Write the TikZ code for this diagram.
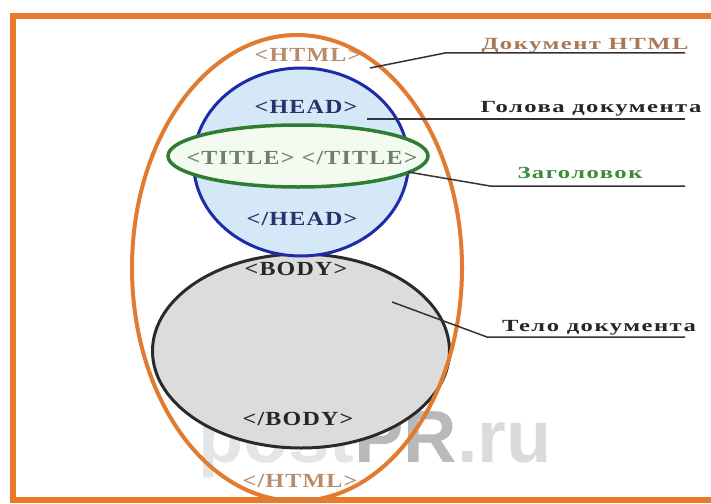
\documentclass[tikz,border=0pt]{standalone}
\usepackage{fontspec}
\usepackage{graphicx}
\setmainfont{Liberation Serif}
\setsansfont{Liberation Sans}
\usetikzlibrary{shapes.geometric}
\definecolor{frameorange}{HTML}{E97A2C}
\definecolor{htmlorange}{HTML}{E07B30}
\definecolor{headblue}{HTML}{1E2BA8}
\definecolor{headfill}{HTML}{D5E8F8}
\definecolor{titlegreen}{HTML}{2E7D32}
\definecolor{titlefill}{HTML}{F3FBF1}
\definecolor{bodyfill}{HTML}{DCDCDC}
\definecolor{bodyline}{HTML}{2A2A2A}
\definecolor{tagbrown}{HTML}{B88C6A}
\definecolor{tagnavy}{HTML}{2B2F6B}
\definecolor{taggreen}{HTML}{6E7F6E}
\definecolor{labbrown}{HTML}{A87858}
\definecolor{labgreen}{HTML}{3D8A3D}
\definecolor{linegray}{HTML}{333333}
\newcommand{\tagw}[1]{\scalebox{1.2}[1]{#1}}
\newcommand{\labw}[1]{\scalebox{1.45}[1]{#1}}
\tikzset{
  tagtext/.style={font=\bfseries\fontsize{20}{20}\selectfont\addfontfeatures{LetterSpace=5}, inner sep=0pt},
  labtext/.style={font=\bfseries\fontsize{17}{17}\selectfont\addfontfeatures{LetterSpace=6}, inner sep=0pt, anchor=base},
  pointer/.style={draw=linegray, line width=1.5pt},
  ovalshape/.style={ellipse, inner sep=0pt}
}
\begin{document}
\begin{tikzpicture}[x=1pt,y=-1pt]
\useasboundingbox (0,0) rectangle (711,503);
\begin{scope}
\clip (0,0) rectangle (711,503);
\fill[white] (0,0) rectangle (711,503);
\draw[frameorange, line width=6pt] (13,16) rectangle (720,500);
\end{scope}
% watermark
\node[font=\sffamily\bfseries\fontsize{74}{74}\selectfont, inner sep=0pt, anchor=base west] (wm) at (198,462)
  {\textcolor{gray!20}{post}\textcolor{gray!55}{PR}\textcolor{gray!28}{.ru}};
% shapes
\node[ovalshape, draw=bodyline, fill=bodyfill, line width=3pt, minimum width=297pt, minimum height=194pt] (body) at (301,351) {};
\node[ovalshape, draw=headblue, fill=headfill, line width=3pt, minimum width=215pt, minimum height=188pt] (head) at (301,162) {};
\node[ovalshape, draw=titlegreen, fill=titlefill, line width=3.5pt, minimum width=260pt, minimum height=62pt] (title) at (298,156) {};
\node[ovalshape, draw=htmlorange, line width=4pt, minimum width=330pt, minimum height=466pt] (html) at (297,268) {};
% tags
\node[tagtext, text=tagbrown] (thtml) at (308,55) {\tagw{<HTML>}};
\node[tagtext, text=tagnavy] (thead) at (306,107) {\tagw{<HEAD>}};
\node[tagtext, text=taggreen] (ttitle) at (302,158) {\tagw{<TITLE> </TITLE>}};
\node[tagtext, text=tagnavy] (tehead) at (302,219) {\tagw{</HEAD>}};
\node[tagtext, text=black!85] (tbody) at (296,269) {\tagw{<BODY>}};
\node[tagtext, text=black!85] (tebody) at (298,419) {\tagw{</BODY>}};
\node[tagtext, text=tagbrown] (tehtml) at (300,481) {\tagw{</HTML>}};
% labels
\node[labtext, text=labbrown] (ldoc) at (585,49) {\labw{Документ HTML}};
\node[labtext, text=black!85] (lhead) at (591,112) {\labw{Голова документа}};
\node[labtext, text=labgreen] (ltitle) at (580,178) {\labw{Заголовок}};
\node[labtext, text=black!85] (lbody) at (599,331) {\labw{Тело документа}};
% connectors
\coordinate (p1) at (370,68);
\coordinate (b1) at (445,53);
\coordinate (e1) at (685,53);
\coordinate (p2) at (367,119);
\coordinate (e2) at (685,119);
\coordinate (p3) at (408,172);
\coordinate (b3) at (490,186);
\coordinate (e3) at (685,186);
\coordinate (p4) at (392,302);
\coordinate (b4) at (487,337);
\coordinate (e4) at (685,337);
\draw[pointer] (p1) -- (b1) -- (e1);
\draw[pointer] (p2) -- (e2);
\draw[pointer] (p3) -- (b3) -- (e3);
\draw[pointer] (p4) -- (b4) -- (e4);
\end{tikzpicture}
\end{document}
